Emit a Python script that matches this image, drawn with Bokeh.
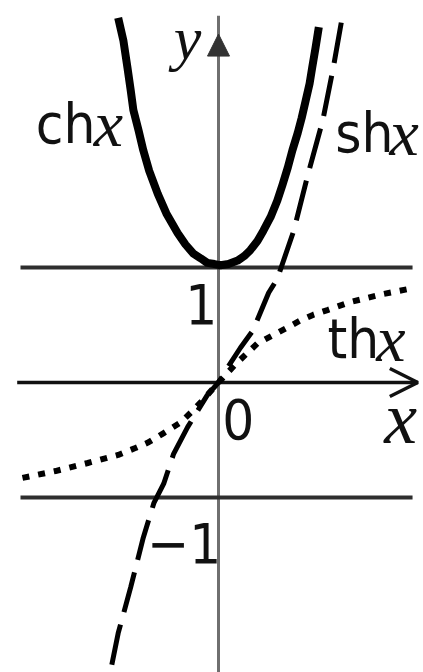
from bokeh.plotting import figure
from bokeh.models import Range1d, Arrow, NormalHead, OpenHead
from bokeh.core.properties import value
from bokeh.embed import file_html
from bokeh.resources import INLINE

# hyperbolic cosine (ch x), points along the curve
ch_x = [-1.52, -1.44, -1.38, -1.33, -1.29, -1.21, -1.14, -1.05, -0.92, -0.79, -0.62, -0.50,
        -0.38, -0.27, -0.17, -0.06, 0.03, 0.15, 0.29, 0.39, 0.48, 0.59, 0.68, 0.79,
        0.89, 0.97, 1.05, 1.12, 1.20, 1.26, 1.32, 1.38, 1.42, 1.47, 1.52]
ch_y = [3.17, 2.97, 2.74, 2.54, 2.37, 2.19, 2.02, 1.84, 1.64, 1.47, 1.30, 1.20,
        1.12, 1.08, 1.04, 1.03, 1.02, 1.03, 1.06, 1.10, 1.15, 1.23, 1.32, 1.44,
        1.58, 1.72, 1.87, 2.02, 2.17, 2.30, 2.45, 2.60, 2.74, 2.91, 3.09]

# hyperbolic sine (sh x)
sh_x = [1.86, 1.74, 1.58, 1.36, 1.14, 0.89, 0.76, 0.52, 0.33, 0.15, 0.0,
        -0.17, -0.47, -0.68, -0.83, -0.98, -1.14, -1.33, -1.52, -1.64, -1.70]
sh_y = [3.13, 2.74, 2.28, 1.82, 1.32, 0.90, 0.78, 0.45, 0.30, 0.14, 0.0,
        -0.11, -0.39, -0.62, -0.88, -1.05, -1.35, -1.78, -2.18, -2.52, -2.68]

# hyperbolic tangent (th x)
th_x = [-2.97, -2.47, -1.98, -1.52, -1.26, -1.06, -0.83, -0.58, -0.38, -0.17, 0.0,
        0.26, 0.59, 0.82, 1.05, 1.24, 1.44, 1.65, 2.00, 2.50, 2.94]
th_y = [-0.83, -0.77, -0.70, -0.63, -0.57, -0.52, -0.44, -0.35, -0.24, -0.11, 0.0,
        0.16, 0.34, 0.41, 0.48, 0.54, 0.59, 0.63, 0.70, 0.77, 0.82]

# asymptote levels y = 1 and y = -1, and their horizontal extent
levels = [1.0, -1.0]
level_x0, level_x1 = -3.0, 2.94

# coordinate axes
x_axis_from, x_axis_to = -3.05, 3.02
y_axis_from, y_axis_to = -2.7, 3.19
y_arrow_tip = 3.03

p = figure(width=423, height=672, output_backend="svg", toolbar_location=None,
           x_range=Range1d(-3.303, 3.106), y_range=Range1d(-2.522, 3.322),
           min_border=0, outline_line_color=None)
p.axis.visible = False
p.grid.visible = False
p.background_fill_color = "white"
p.border_fill_color = "white"

# axes
p.segment(x0=[0], y0=[y_axis_from], x1=[0], y1=[y_axis_to],
          line_color="#6f6f6f", line_width=3)
p.segment(x0=[x_axis_from], y0=[0], x1=[x_axis_to], y1=[0],
          line_color="#111111", line_width=3.5)
p.add_layout(Arrow(end=NormalHead(size=22, fill_color="#333333", line_color="#333333", line_width=1),
                   x_start=0, y_start=y_arrow_tip - 0.3, x_end=0, y_end=y_arrow_tip,
                   line_alpha=0))
p.add_layout(Arrow(end=OpenHead(size=28, line_color="#111111", line_width=3.5),
                   x_start=x_axis_to - 0.5, y_start=0, x_end=x_axis_to, y_end=0,
                   line_alpha=0))

# y = ±1 levels
p.segment(x0=[level_x0] * len(levels), y0=levels, x1=[level_x1] * len(levels), y1=levels,
          line_color="#2e2e2e", line_width=4)

# curves
p.line(th_x, th_y, line_color="black", line_width=6, line_dash="7 9")
p.line(sh_x, sh_y, line_color="black", line_width=5, line_dash="41 13")
p.line(ch_x, ch_y, line_color="black", line_width=8, line_join="round")

sans = value("Liberation Sans Narrow, DejaVu Sans Condensed, sans-serif")
serif = value("Liberation Serif")

# function names
p.text(x=[-2.77, 1.77, 1.65], y=[2.25, 2.17, 0.38], text=["ch", "sh", "th"],
       text_font=sans, text_font_size="56px", text_color="#111111",
       text_align="left", text_baseline="alphabetic")
p.text(x=[-1.89, 2.59, 2.39], y=[2.25, 2.17, 0.38], text=["x", "x", "x"],
       text_font=serif, text_font_style="italic", text_font_size="66px", text_color="#111111",
       text_align="left", text_baseline="alphabetic")

# tick values
p.text(x=[-0.26, 0.30, -0.52], y=[0.68, -0.32, -1.40], text=["1", "0", "\u22121"],
       text_font=sans, text_font_size="56px", text_color="#111111",
       text_align="center", text_baseline="alphabetic")

# axis names
p.text(x=[-0.47], y=[3.0], text=["y"],
       text_font=serif, text_font_style="italic", text_font_size="62px", text_color="#111111",
       text_align="center", text_baseline="alphabetic")
p.text(x=[2.76], y=[-0.31], text=["x"],
       text_font=serif, text_font_style="italic", text_font_size="74px", text_color="#111111",
       text_align="center", text_baseline="alphabetic")

open("out.html", "w").write(file_html(p, INLINE))
